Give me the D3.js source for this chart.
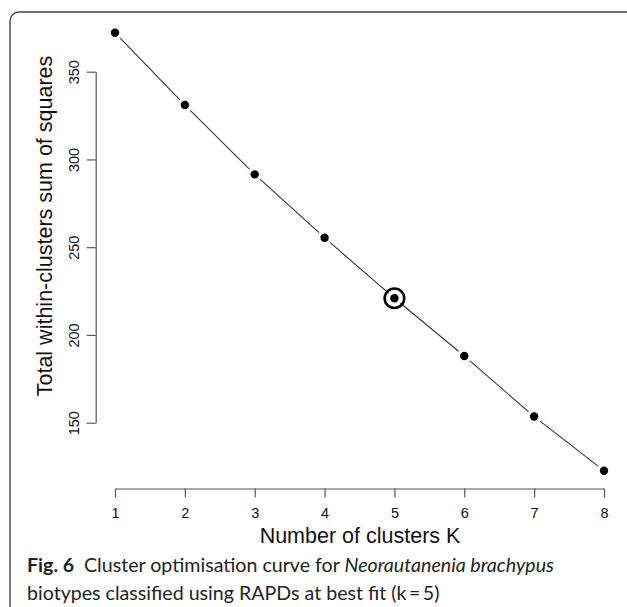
<!DOCTYPE html>
<html>
<head>
<meta charset="utf-8">
<script src="https://cdn.jsdelivr.net/npm/d3@7"></script>
<style>
  html, body { margin: 0; padding: 0; background: #fff; }
  svg { display: block; }
</style>
</head>
<body>
<svg id="chart" width="627" height="607"></svg>
<script>
// ---- data ----
const clusters = [1, 2, 3, 4, 5, 6, 7, 8];
const wss = [372.2, 331.0, 291.5, 255.4, 220.9, 188.0, 153.5, 122.6];
const bestK = 5;
const xTicks = [1, 2, 3, 4, 5, 6, 7, 8];
const yTicks = [150, 200, 250, 300, 350];
const xTitle = "Number of clusters K";
const yTitle = "Total within-clusters sum of squares";

const svg = d3.select("#chart");

// frame (rounded, extends past right/bottom edges)
svg.append("rect")
  .attr("x", 10).attr("y", 12)
  .attr("width", 640).attr("height", 620)
  .attr("rx", 9).attr("ry", 9)
  .attr("fill", "none").attr("stroke", "#444").attr("stroke-width", 1.4);

const x = d3.scaleLinear().domain([1, 8]).range([115, 604]);
const y = d3.scaleLinear().domain([150, 350]).range([422.7, 71.7]);

const axisColor = "#555";
const tickFont = "'Liberation Sans', Arial, Helvetica, sans-serif";

// x axis
const gx = svg.append("g").attr("transform", "translate(0,488.5)")
  .call(d3.axisBottom(x).tickValues(xTicks).tickFormat(d3.format("d")).tickSize(9).tickPadding(0).tickSizeOuter(0));
gx.select(".domain").attr("stroke", axisColor).attr("stroke-width", 1.2);
gx.selectAll(".tick line").attr("stroke", axisColor).attr("stroke-width", 1.2);
gx.selectAll(".tick text")
  .attr("y", 0).attr("dy", null)
  .attr("transform", "translate(0,29)")
  .style("font-family", tickFont).style("font-size", "14.5px").attr("fill", "#111");

// y axis
const gy = svg.append("g").attr("transform", "translate(95.7,0)")
  .call(d3.axisLeft(y).tickValues(yTicks).tickFormat(d3.format("d")).tickSize(9).tickSizeOuter(0));
gy.select(".domain").attr("stroke", axisColor).attr("stroke-width", 1.2);
gy.selectAll(".tick line").attr("stroke", axisColor).attr("stroke-width", 1.2);
gy.selectAll(".tick text")
  .attr("x", null).attr("dy", null)
  .attr("transform", "translate(-16.7,0) rotate(-90)")
  .attr("text-anchor", "middle")
  .style("font-family", tickFont).style("font-size", "14.5px").attr("fill", "#111");

// axis titles
svg.append("text")
  .attr("x", 360).attr("y", 543)
  .attr("text-anchor", "middle")
  .style("font-family", tickFont).style("font-size", "21.5px").attr("fill", "#111")
  .text(xTitle);

svg.append("text")
  .attr("transform", "translate(52,226) rotate(-90)")
  .attr("text-anchor", "middle")
  .style("font-family", tickFont).style("font-size", "21.5px").attr("fill", "#111")
  .text(yTitle);

// line segments with gaps (type = "b")
const pts = clusters.map((k, i) => ({ k, v: wss[i], px: x(k), py: y(wss[i]) }));
const gap = 7.5;
const segs = d3.pairs(pts).map(([a, b]) => {
  const dx = b.px - a.px, dy = b.py - a.py, L = Math.hypot(dx, dy);
  const ux = dx / L, uy = dy / L;
  return { x1: a.px + ux * gap, y1: a.py + uy * gap, x2: b.px - ux * gap, y2: b.py - uy * gap };
});
svg.append("g").selectAll("line").data(segs).join("line")
  .attr("x1", d => d.x1).attr("y1", d => d.y1)
  .attr("x2", d => d.x2).attr("y2", d => d.y2)
  .attr("stroke", "#333").attr("stroke-width", 1.1);

// points
svg.append("g").selectAll("circle").data(pts).join("circle")
  .attr("cx", d => d.px).attr("cy", d => d.py).attr("r", 4.2)
  .attr("fill", "#000");

// best-fit ring
const best = pts.find(p => p.k === bestK);
svg.append("circle")
  .attr("cx", best.px).attr("cy", best.py).attr("r", 9.8)
  .attr("fill", "none").attr("stroke", "#000").attr("stroke-width", 2.6);

// caption
const capFont = "Lato, 'Open Sans', 'Noto Sans', sans-serif";
const cap1 = svg.append("text").attr("x", 27).attr("y", 572)
  .style("font-family", capFont).style("font-size", "20px").attr("fill", "#222");
cap1.append("tspan").style("font-weight", "bold").text("Fig. 6");
cap1.append("tspan").text("\u2002Cluster optimisation curve for ");
cap1.append("tspan").style("font-style", "italic").text("Neorautanenia brachypus");

const cap2 = svg.append("text").attr("x", 27).attr("y", 600)
  .style("font-family", capFont).style("font-size", "20px").attr("fill", "#222")
  .text("biotypes classified using RAPDs at best fit (k\u2009=\u20095)");

// fit caption widths to the reference line lengths
const w1 = cap1.node().getComputedTextLength();
const s1 = 20 * 527 / w1;
cap1.style("font-size", s1 + "px");
cap2.style("font-size", s1 + "px");
</script>
</body>
</html>
